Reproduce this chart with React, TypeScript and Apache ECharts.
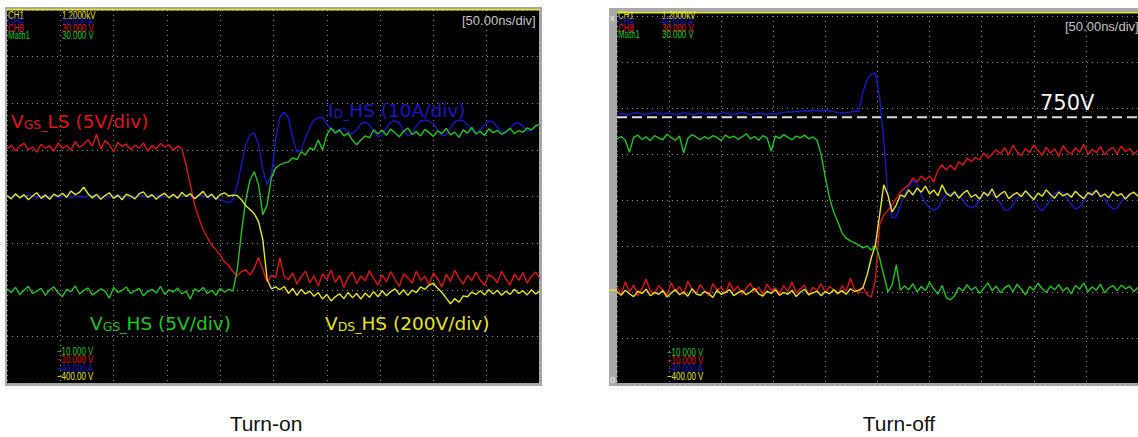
import { useEffect, useRef } from "react";
import * as echarts from "echarts";

// Oscilloscope captures: every trace is sampled every 4 ns over a 500 ns window
// (50 ns/div, 10 divisions). Values are screen divisions, 0 = centre line.
const SAMPLE_NS = 4;
const TIME_SPAN_NS = 500;
const TIME_DIV_NS = 50;
const Y_DIVS = 4;

// ---------- Turn-on ----------
const turnOnVgsLs = [
  1.02, 1.10, 0.98, 1.08, 1.14, 1.00, 1.06, 0.95, 1.12, 1.04,
  1.09, 0.97, 1.15, 1.03, 1.10, 0.99, 1.18, 1.05, 1.12, 1.22,
  1.08, 1.34, 1.02, 1.20, 1.11, 0.96, 1.16, 1.07, 1.13, 1.00,
  1.10, 1.04, 1.15, 0.97, 1.09, 1.02, 1.14, 1.06, 1.11, 0.99,
  1.08, 1.03, 0.68, 0.25, -0.18, -0.46, -0.71, -0.88, -1.04, -1.14,
  -1.25, -1.40, -1.48, -1.61, -1.70, -1.61, -1.57, -1.68, -1.53, -1.31,
  -1.57, -1.83, -1.70, -1.74, -1.31, -1.72, -1.78,
  -1.64, -1.88, -1.72, -1.60, -1.85, -1.70, -1.92, -1.66, -1.79, -1.58,
  -1.84, -1.69, -1.95, -1.73, -1.62, -1.87, -1.70, -1.81, -1.59, -1.76,
  -1.90, -1.68, -1.83, -1.61, -1.78, -1.93, -1.66, -1.74, -1.86, -1.60,
  -1.80, -1.71, -1.89, -1.64, -1.77, -1.94, -1.67, -1.82, -1.58, -1.75,
  -1.88, -1.69, -1.81, -1.62, -1.79, -1.91, -1.68, -1.73, -1.85, -1.60,
  -1.77, -1.90, -1.66, -1.80, -1.63, -1.86, -1.71, -1.62, -1.76,
];

const turnOnVdsHs = [
  0.02, -0.05, 0.06, -0.03, 0.04, -0.07, 0.01, 0.08, -0.04, 0.03,
  -0.06, 0.05, 0.00, 0.07, -0.02, 0.12, 0.04, 0.09, 0.20, 0.06,
  -0.03, 0.05, -0.06, 0.02, 0.08, -0.04, 0.03, -0.07, 0.05, 0.01,
  -0.05, 0.06, 0.10, -0.02, 0.04, -0.06, 0.02, 0.07, -0.03, 0.05,
  -0.04, 0.09, 0.00, 0.06, -0.05, 0.03, 0.11, -0.02, 0.05, -0.06,
  0.04, 0.08, 0.01,
  0.03, 0.02, -0.07, -0.20, -0.28, -0.37, -0.54, -0.93, -1.78, -1.98, -1.94, -2.00,
  -1.93, -2.08, -1.97, -2.12, -1.99, -2.09, -2.03, -2.14, -2.06, -2.20,
  -2.10, -2.24, -2.15, -2.09, -2.19, -2.06, -2.17, -2.08, -2.20, -2.07,
  -2.16, -2.04, -2.15, -2.02, -2.13, -2.04, -1.98, -2.10, -2.00, -2.12,
  -2.01, -2.06, -1.94, -1.99, -1.90, -1.86, -1.97, -2.06, -2.18, -2.30,
  -2.19, -2.27, -2.13, -2.15, -2.05, -2.10, -2.02, -2.11, -2.00, -2.09,
  -2.01, -2.12, -2.03, -2.10, -1.99, -2.08, -2.02, -2.11, -2.00, -2.09, -2.03,
];

const turnOnIdHs = [
  0.01, -0.02, 0.02, 0.00, -0.01, 0.03, 0.01, -0.02, 0.02, -0.01,
  0.00, 0.02, -0.03, 0.01, 0.03, -0.01, 0.02, 0.00, -0.02, 0.01,
  0.03, -0.01, 0.00, 0.02, -0.02, 0.01, 0.03, -0.01, 0.02, 0.00,
  -0.02, 0.01, 0.02, -0.01, 0.00, 0.03, -0.02, 0.01, 0.00, 0.02,
  -0.01, 0.01, 0.03, 0.00, -0.02, 0.02, 0.01, -0.01, 0.00, -0.03,
  -0.06, -0.10,
  -0.13, -0.07, 0.25, 0.68, 1.11, 1.32, 1.36, 1.11, 0.57, 0.25,
  0.46, 1.21, 1.71, 1.81, 1.69, 1.26, 0.96, 1.00, 1.26, 1.49,
  1.64, 1.69, 1.69, 1.56, 1.43, 1.41, 1.43, 1.47, 1.39, 1.34,
  1.43, 1.56, 1.60, 1.54, 1.39, 1.28, 1.32, 1.47, 1.60, 1.62,
  1.58, 1.43, 1.30, 1.36, 1.51, 1.62, 1.64, 1.62, 1.56, 1.43,
  1.30, 1.32, 1.47, 1.60, 1.64, 1.62, 1.54, 1.41, 1.34, 1.43,
  1.54, 1.62, 1.60, 1.49, 1.39, 1.36, 1.47, 1.56, 1.58, 1.51,
  1.41, 1.43, 1.51, 1.54,
];

const turnOnVgsHs = [
  -1.98, -2.06, -1.95, -2.10, -2.01, -1.93, -2.08, -2.03, -1.97, -2.12,
  -2.00, -1.94, -2.07, -2.15, -1.99, -2.04, -1.92, -2.09, -2.02, -1.96,
  -2.11, -2.05, -1.98, -2.03, -2.18, -1.95, -2.06, -2.01, -1.94, -2.08,
  -2.02, -1.97, -2.13, -2.04, -1.99, -2.07, -1.93, -2.10, -2.00, -2.05,
  -1.96, -2.09, -2.03, -2.20, -1.98, -2.04, -1.95, -2.08, -2.01, -2.12,
  -1.97, -2.05, -1.99, -2.03,
  -1.57, -0.76, -0.07, 0.36, 0.53, 0.25, -0.39, -0.18, 0.40, 0.61,
  0.68, 0.72, 0.74, 0.83, 0.79, 0.96, 0.89, 1.04, 1.00, 1.21,
  1.00, 1.32, 1.47, 1.36, 1.43, 1.30, 1.36, 1.21, 1.11, 1.21,
  1.30, 1.26, 1.43, 1.34,
  1.42, 1.31, 1.45, 1.36, 1.28, 1.40, 1.47, 1.33, 1.39, 1.30,
  1.44, 1.37, 1.29, 1.41, 1.35, 1.46, 1.32, 1.38, 1.27, 1.43,
  1.36, 1.48, 1.34, 1.40, 1.31, 1.45, 1.37, 1.42, 1.33, 1.39,
  1.46, 1.35, 1.41, 1.38, 1.47, 1.43, 1.52, 1.55,
];

// ---------- Turn-off ----------
const turnOffIdHs = [
  1.86, 1.88, 1.87, 1.85, 1.89, 1.90, 1.87, 1.86, 1.88, 1.91,
  1.87, 1.86, 1.89, 1.88, 1.86, 1.87, 1.90, 1.88, 1.86, 1.87,
  1.89, 1.86, 1.88, 1.87, 1.85, 1.88, 1.90, 1.87, 1.86, 1.88,
  1.91, 1.88, 1.86, 1.87, 1.89, 1.87, 1.86, 1.88, 1.87, 1.89,
  1.90, 1.92, 1.91, 1.93, 1.92, 1.94, 1.93, 1.95, 1.94, 1.93,
  1.95, 1.94, 1.92, 1.90, 1.89, 1.90, 1.91, 1.93,
  1.93, 2.35, 2.61, 2.74, 2.76, 2.24, 1.30, 0.11, -0.39, -0.37,
  -0.11, 0.11, 0.30, 0.43, 0.35, 0.11, -0.07, -0.17, -0.22, -0.17,
  0.00, 0.11, 0.15, 0.13, 0.09, 0.00, -0.13, -0.17, -0.13, 0.00,
  0.11, 0.15, 0.13, 0.07, -0.07, -0.22, -0.22, -0.11, 0.04, 0.13,
  0.17, 0.13, 0.00, -0.15, -0.24, -0.13, 0.02, 0.13, 0.20, 0.15,
  0.04, -0.09, -0.20, -0.15, -0.02, 0.11, 0.17, 0.20, 0.13, 0.02,
  -0.11, -0.20, -0.17, -0.04, 0.07, 0.13, 0.15, 0.11,
];

const turnOffVdsHs = [
  -2.00, -2.07, -1.96, -2.04, -2.10, -1.98, -2.03, -1.94, -2.08, -2.01,
  -2.05, -1.97, -2.11, -2.02, -1.95, -2.06, -2.00, -2.09, -1.93, -2.04,
  -2.07, -1.99, -2.03, -2.12, -1.96, -2.05, -2.01, -1.95, -2.08, -2.02,
  -1.97, -2.06, -2.00, -1.92, -2.04, -2.09, -1.98, -2.03, -1.95, -2.07,
  -2.01, -2.05, -1.96, -2.10, -2.00, -1.94, -2.06, -2.02, -1.98, -2.08,
  -1.99, -2.04, -1.95, -2.03, -1.97, -2.05, -1.93, -1.99, -1.96,
  -1.91, -1.63, -1.26, -0.98, -0.33, 0.33, 0.11, -0.26, -0.11, 0.11,
  0.07, 0.22, 0.11, 0.26, 0.17, 0.30, 0.13, 0.22, 0.09, 0.33, 0.15,
  0.08, 0.18, 0.04, 0.14, 0.21, 0.06, 0.12, 0.02, 0.17, 0.09,
  0.24, 0.05, 0.13, 0.19, 0.03, 0.11, 0.16, 0.07, 0.20, 0.10,
  0.01, 0.15, 0.08, 0.22, 0.12, 0.04, 0.17, 0.09, 0.14, 0.06,
  0.19, 0.10, 0.03, 0.16, 0.11, 0.21, 0.07, 0.13, 0.05, 0.18,
  0.09, 0.14, 0.02, 0.12, 0.17, 0.08,
];

const turnOffVgsLs = [
  -1.90, -2.05, -1.78, -2.00, -1.85, -2.08, -1.93, -1.72, -1.98, -2.04,
  -1.86, -1.95, -2.07, -1.80, -1.99, -1.88, -2.06, -1.76, -1.94, -2.02,
  -1.84, -1.97, -2.09, -1.82, -1.96, -1.90, -2.03, -1.79, -1.98, -1.87,
  -2.05, -1.92, -1.81, -2.00, -1.89, -2.06, -1.83, -1.97, -1.91, -2.04,
  -1.86, -1.99, -1.78, -2.02, -1.93, -1.85, -2.07, -1.90, -1.96, -1.82,
  -2.01, -1.88, -1.95, -2.05, -1.87, -1.98, -1.70, -1.94, -2.03, -1.89,
  -2.06, -2.11,
  -1.74, -0.54, -0.33, -0.22, -0.11, 0.04, 0.17, 0.26, 0.33, 0.48,
  0.39, 0.52, 0.43, 0.52, 0.39, 0.65, 0.76, 0.65, 0.76, 0.65,
  0.83, 0.76, 0.91, 0.83, 0.93, 0.87, 1.02, 0.91, 1.00, 1.09,
  1.00, 1.14, 0.98, 1.19, 1.05, 0.96, 1.12, 1.03, 1.20, 1.08,
  0.97, 1.15, 1.02, 1.11, 0.95, 1.18, 1.06, 1.00, 1.13, 1.04,
  1.21, 0.99, 1.10, 1.03, 1.16, 0.98, 1.09, 1.14, 1.01, 1.17,
  1.05, 1.12, 1.00, 1.08,
];

const turnOffVgsHs = [
  1.33, 1.38, 1.30, 1.04, 1.36, 1.41, 1.32, 1.37, 1.29, 1.40,
  1.35, 1.31, 1.43, 1.36, 1.30, 1.39, 1.02, 1.34, 1.42, 1.37,
  1.31, 1.38, 1.33, 1.40, 1.36, 1.29, 1.41, 1.35, 1.39, 1.32,
  1.37, 1.44, 1.33, 1.38, 1.30, 1.40, 1.35, 1.06, 1.39, 1.34,
  1.42, 1.36, 1.31, 1.39, 1.35, 1.41, 1.33, 1.37,
  1.30, 0.98, 0.48, 0.04, -0.26, -0.48, -0.72, -0.83, -0.89, -0.93,
  -0.98, -1.04, -1.00, -1.09, -0.98, -1.26, -1.63, -2.00, -1.85, -1.41,
  -1.96, -1.87,
  -1.95, -1.82, -2.00, -1.88, -1.97, -1.79, -1.93, -2.05, -1.86, -2.12,
  -2.17, -2.08, -1.90, -1.98, -1.84, -1.96, -1.89, -2.03, -1.92, -1.80,
  -1.97, -1.87, -2.02, -1.91, -1.85, -1.99, -1.83, -1.94, -2.06, -1.88,
  -1.96, -1.81, -1.93, -2.01, -1.87, -1.95, -1.84, -1.98, -1.90, -2.04,
  -1.86, -1.94, -1.80, -1.99, -1.89, -1.96, -1.83, -2.02, -1.91, -1.86,
  -1.97, -1.85, -1.93, -1.88, -1.99, -1.90,
];

// 750 V reference level on the turn-off screen, in divisions
const busLevelDiv = 1.8;

// Channel readouts
const channelNames = ["CH1", "CH4", "CH8", "Math1"];
const turnOnScales = ["1.2000kV", "10.000 A", "30.000 V", "30.000 V"];
const turnOffScales = ["1.2000kV", "40.000 A", "30.000 V", "30.000 V"];
const bottomReadouts = ["\u221210.000 V", "\u221210.000 V", "\u221240.000 A", "\u2212400.00 V"];

const C_YELLOW = "#e6e61e";
const C_BLUE = "#1818c8";
const C_RED = "#e01414";
const C_GREEN = "#22c422";
const readoutColors = [C_YELLOW, C_BLUE, C_RED, C_GREEN];
const bottomColors = [C_GREEN, C_RED, C_BLUE, C_YELLOW];

const toPoints = (values: number[]) => values.map((v, i) => [i * SAMPLE_NS, v]);

const LABEL_FONT = "'DejaVu Sans', Verdana, sans-serif";
const SMALL_FONT = "'Liberation Sans', Arial, sans-serif";

function traceSeries(name: string, values: number[], color: string, axis: number, z: number) {
  return {
    name,
    type: "line",
    xAxisIndex: axis,
    yAxisIndex: axis,
    data: toPoints(values),
    symbol: "none",
    z,
    lineStyle: { color, width: 1.4 },
    silent: true,
  };
}

function subLabel(x: number, y: number, head: string, sub: string, tail: string, color: string) {
  return {
    type: "text",
    x,
    y,
    z: 60,
    style: {
      text: `{m|${head}}{s|${sub}}{m|${tail}}`,
      fill: color,
      align: "left",
      verticalAlign: "top",
      rich: {
        m: { fontSize: 18.5, fontFamily: LABEL_FONT, fill: color, lineHeight: 22, verticalAlign: "bottom" },
        s: { fontSize: 12.5, fontFamily: LABEL_FONT, fill: color, lineHeight: 8, verticalAlign: "bottom" },
      },
    },
  };
}

function smallText(x: number, y: number, text: string, color: string) {
  return {
    type: "text",
    x,
    y,
    z: 60,
    scaleX: 0.72,
    style: {
      text,
      fill: color,
      fontSize: 11,
      fontFamily: SMALL_FONT,
      align: "left",
      verticalAlign: "middle",
    },
  };
}

function readoutBlock(x0: number, x1: number, y0: number, step: number, scales: string[]) {
  const out: any[] = [];
  channelNames.forEach((n, i) => {
    out.push(smallText(x0, y0 + i * step, n, readoutColors[i]));
    out.push(smallText(x1, y0 + i * step, scales[i], readoutColors[i]));
  });
  return out;
}

function bottomBlock(x: number, y0: number, step: number) {
  return bottomReadouts.map((t, i) => smallText(x, y0 + i * step, t, bottomColors[i]));
}

export default function App() {
  const ref = useRef<HTMLDivElement>(null);

  useEffect(() => {
    document.body.style.margin = "0";
    if (!ref.current) return;
    const chart = echarts.init(ref.current, undefined, { renderer: "svg" });

    const axisCommon = {
      type: "value",
      axisLine: { show: false },
      axisTick: { show: false },
      axisLabel: { show: false },
      splitLine: { show: true, lineStyle: { color: "#8e8e8e", width: 1, type: [1, 4] } },
    };
    const xAxisFor = (gridIndex: number) => ({
      ...axisCommon,
      gridIndex,
      min: 0,
      max: TIME_SPAN_NS,
      interval: TIME_DIV_NS,
    });
    const yAxisFor = (gridIndex: number) => ({
      ...axisCommon,
      gridIndex,
      min: -Y_DIVS,
      max: Y_DIVS,
      interval: 1,
    });

    const graphics: any[] = [
      // turn-on screen bezel and face
      { type: "rect", z: -20, shape: { x: 5, y: 7, width: 537, height: 379 }, style: { fill: "#a9a9a9" } },
      { type: "rect", z: -10, shape: { x: 7, y: 10, width: 532, height: 373 }, style: { fill: "#000000" } },
      { type: "rect", z: 40, shape: { x: 7, y: 9, width: 533, height: 1.6 }, style: { fill: C_YELLOW } },
      // turn-off screen bezel and face
      { type: "rect", z: -20, shape: { x: 609, y: 8, width: 529, height: 378 }, style: { fill: "#a9a9a9" } },
      { type: "rect", z: -10, shape: { x: 617, y: 13, width: 521, height: 370 }, style: { fill: "#000000" } },
      { type: "rect", z: 40, shape: { x: 617, y: 12, width: 521, height: 1.6 }, style: { fill: C_YELLOW } },
      { type: "rect", z: 40, shape: { x: 609, y: 289.5, width: 8, height: 1.5 }, style: { fill: C_YELLOW } },
      { type: "text", x: 610, y: 18, z: 60, style: { text: "x", fill: "#f0f0f0", fontSize: 9, fontFamily: SMALL_FONT, verticalAlign: "middle" } },
      { type: "text", x: 610, y: 380, z: 60, style: { text: "0", fill: "#f0f0f0", fontSize: 9, fontFamily: SMALL_FONT, verticalAlign: "middle" } },

      // time-base readouts
      { type: "text", x: 462, y: 14, z: 60, style: { text: "[50.00ns/div]", fill: "#c4c4c4", fontSize: 13, fontFamily: SMALL_FONT, verticalAlign: "top" } },
      { type: "text", x: 1065, y: 20, z: 60, style: { text: "[50.00ns/div]", fill: "#c4c4c4", fontSize: 13, fontFamily: SMALL_FONT, verticalAlign: "top" } },

      ...readoutBlock(8, 62, 14.5, 6.7, turnOnScales),
      ...readoutBlock(618, 662, 14.5, 6.5, turnOffScales),
      ...bottomBlock(57, 351, 8.3),
      ...bottomBlock(667, 352, 8.1),

      // trace annotations
      subLabel(11, 109, "V", "GS_", "LS (5V/div)", C_RED),
      subLabel(328, 98, "I", "D_", "HS (10A/div)", C_BLUE),
      subLabel(90, 311, "V", "GS_", "HS (5V/div)", C_GREEN),
      subLabel(325, 311, "V", "DS_", "HS (200V/div)", C_YELLOW),
      { type: "text", x: 1040, y: 92, z: 60, style: { text: "750V", fill: "#f4f4f4", fontSize: 21, fontFamily: LABEL_FONT, verticalAlign: "top" } },

      // captions
      { type: "text", x: 266, y: 423, z: 60, style: { text: "Turn-on", fill: "#111111", fontSize: 21, fontFamily: SMALL_FONT, align: "center", verticalAlign: "middle" } },
      { type: "text", x: 899, y: 423, z: 60, style: { text: "Turn-off", fill: "#111111", fontSize: 21, fontFamily: SMALL_FONT, align: "center", verticalAlign: "middle" } },
    ];

    chart.setOption({
      animation: false,
      backgroundColor: "#ffffff",
      grid: [
        { left: 7, top: 10, width: 533, height: 373, show: false },
        { left: 617, top: 16, width: 527, height: 368, show: false },
      ],
      xAxis: [xAxisFor(0), xAxisFor(1)],
      yAxis: [yAxisFor(0), yAxisFor(1)],
      series: [
        traceSeries("I_D HS", turnOnIdHs, C_BLUE, 0, 2),
        traceSeries("V_GS LS", turnOnVgsLs, C_RED, 0, 3),
        traceSeries("V_GS HS", turnOnVgsHs, C_GREEN, 0, 4),
        traceSeries("V_DS HS", turnOnVdsHs, C_YELLOW, 0, 5),
        {
          name: "750V",
          type: "line",
          xAxisIndex: 1,
          yAxisIndex: 1,
          data: [[0, busLevelDiv], [TIME_SPAN_NS, busLevelDiv]],
          symbol: "none",
          z: 1,
          lineStyle: { color: "#dcdcdc", width: 2, type: [10, 5] },
          silent: true,
        },
        traceSeries("I_D HS", turnOffIdHs, C_BLUE, 1, 2),
        traceSeries("V_GS LS", turnOffVgsLs, C_RED, 1, 3),
        traceSeries("V_GS HS", turnOffVgsHs, C_GREEN, 1, 4),
        traceSeries("V_DS HS", turnOffVdsHs, C_YELLOW, 1, 5),
      ],
      graphic: { elements: graphics },
    });

    return () => chart.dispose();
  }, []);

  return <div ref={ref} style={{ width: 1138, height: 437 }} />;
}
